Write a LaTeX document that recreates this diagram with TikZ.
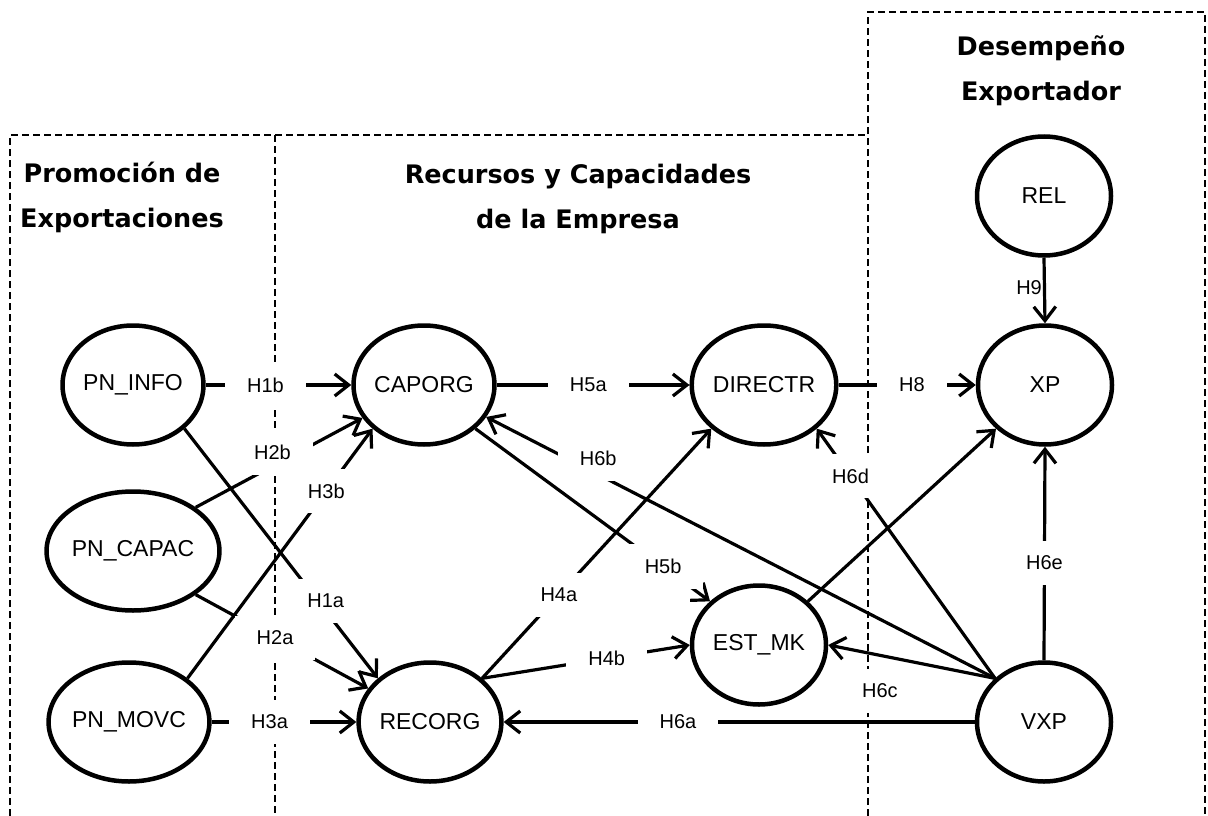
\documentclass[tikz,border=0pt]{standalone}
\usepackage{fontspec}
\setmainfont{Liberation Sans}
\newfontfamily\headfont{DejaVu Sans}
\usetikzlibrary{shapes.geometric,arrows.meta}

\begin{document}
\begin{tikzpicture}
          [x=1pt,y=-1pt,
           var/.style={ellipse, draw, line width=4.5pt, minimum width=134pt, minimum height=119pt, inner sep=0pt, font=\fontsize{23}{23}\selectfont},
           link/.style={line width=3.2pt, -{Straight Barb[length=14pt,width=22pt]}},
           hyp/.style={fill=white, inner xsep=22pt, inner ysep=15pt, font=\fontsize{20}{20}\selectfont},
           heading/.style={align=center, anchor=base, font=\headfont\bfseries\fontsize{25.5}{45}\selectfont},
           area/.style={line width=1.4pt, dash pattern=on 7pt off 4pt}]
        \useasboundingbox (0,0) rectangle (1208,816);
        % areas
        \draw[area] (10,816) -- (10,135) -- (868,135);
        \draw[area] (275,135) -- (275,816);
        \draw[area] (868,816) -- (868,12) -- (1205,12) -- (1205,816);
        \node[heading] (promo) at (122,227) {Promoción de\\Exportaciones};
        \node[heading] (recursos) at (578,228) {Recursos y Capacidades\\de la Empresa};
        \node[heading] (desemp) at (1041,100) {Desempeño\\Exportador};
        % constructs
        \node[var] (pninfo) at (133,385) {PN\_INFO};
        \node[var] (pncapac) at (133,551) {PN\_CAPAC};
        \node[var] (pnmovc) at (129,722) {PN\_MOVC};
        \node[var] (caporg) at (424,385) {CAPORG};
        \node[var] (recorg) at (430,722) {RECORG};
        \node[var] (directr) at (764,385) {DIRECTR};
        \node[var] (estmk) at (759,645) {EST\_MK};
        \node[var] (rel) at (1044,196) {REL};
        \node[var] (xp) at (1045,385) {XP};
        \node[var] (vxp) at (1044,722) {VXP};
        % hypotheses
        \draw[link] (pninfo.east) -- node[hyp, pos=0.41] {H1b} (caporg.west);
        \draw[link] (pncapac.north east) -- node[hyp, pos=0.46, yshift=14pt] {H2b} (caporg);
        \draw[link] (pnmovc.north east) -- node[hyp, pos=0.75] {H3b} (caporg.south west);
        \draw[link] (pninfo.south east) -- node[hyp, pos=0.73, yshift=10pt] {H1a} (recorg.north west);
        \draw[link] (pncapac.south east) -- node[hyp, pos=0.46] {H2a} (recorg);
        \draw[link] (pnmovc.east) -- node[hyp, pos=0.4] {H3a} (recorg.west);
        \draw[link] (caporg.east) -- node[hyp, pos=0.475] {H5a} (directr.west);
        \draw[link] (caporg.south east) -- node[hyp, pos=0.8] {H5b} (estmk.north west);
        \draw[link] (recorg.north east) -- node[hyp, pos=0.335] {H4a} (directr.south west);
        \draw[link] (recorg.north east) -- node[hyp, pos=0.6] {H4b} (estmk.west);
        \draw[link] (estmk.north east) -- (xp.south west);
        \draw[link] (directr.east) -- node[hyp, pos=0.535] {H8} (xp.west);
        \draw[link] (rel.south) -- node[left, pos=0.45, inner sep=1pt, font=\fontsize{20}{20}\selectfont] {H9} (xp.north);
        \draw[link] (vxp.west) -- node[hyp, pos=0.63] {H6a} (recorg.east);
        \draw[link] (vxp.north west) -- node[hyp, pos=0.78, yshift=16pt] {H6b} (caporg);
        \draw[link] (vxp.north west) -- node[hyp, below, pos=0.69, yshift=-12pt] {H6c} (estmk.east);
        \draw[link] (vxp.north west) -- node[hyp, pos=0.81] {H6d} (directr.south east);
        \draw[link] (vxp.north) -- node[hyp, pos=0.456] {H6e} (xp.south);
\end{tikzpicture}
\end{document}
